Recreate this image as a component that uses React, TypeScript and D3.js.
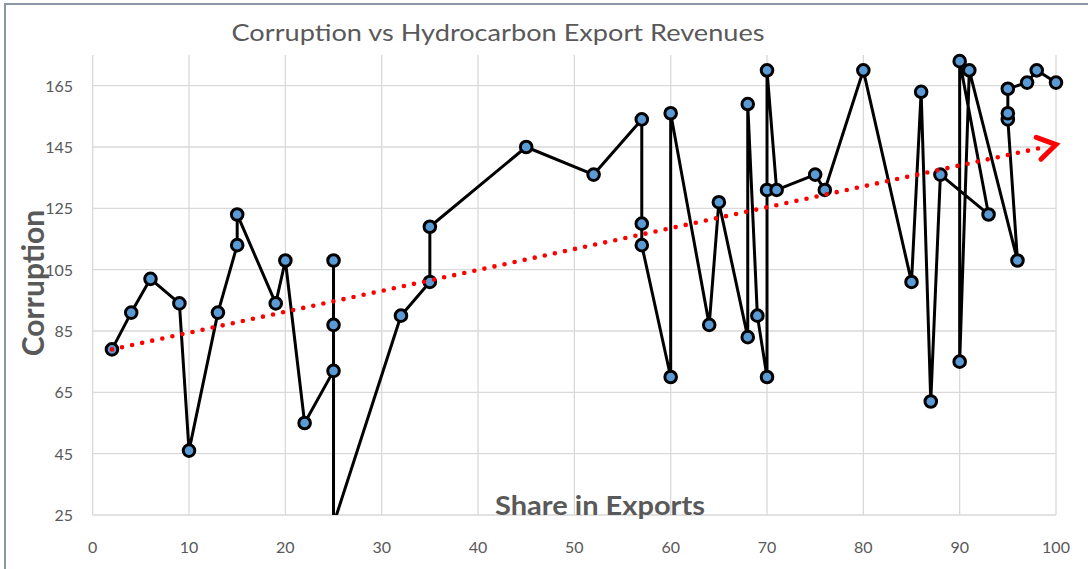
import { useEffect, useRef } from "react";
import * as d3 from "d3";

// share in exports (x) and corruption score (y), in the order the line joins them
const shareInExports = [
  2, 4, 6, 9, 10, 13, 15, 15, 19, 20, 22, 25, 25, 25, 25, 32, 35, 35, 45, 52,
  57, 57, 57, 60, 60, 64, 65, 68, 68, 69, 70, 70, 70, 71, 75, 76, 80, 85, 86,
  87, 88, 93, 90, 90, 91, 96, 95, 95, 95, 97, 98, 100,
];
const corruption = [
  79, 91, 102, 94, 46, 91, 113, 123, 94, 108, 55, 72, 87, 108, 22, 90, 101, 119,
  145, 136, 154, 120, 113, 70, 156, 87, 127, 83, 159, 90, 70, 131, 170, 131, 136,
  131, 170, 101, 163, 62, 136, 123, 173, 75, 170, 108, 154, 156, 164, 166, 170,
  166,
];
const trendX = [2, 100];
const trendY = [79, 145.8];
const yTicks = [25, 45, 65, 85, 105, 125, 145, 165];
const xTicks = [0, 10, 20, 30, 40, 50, 60, 70, 80, 90, 100];

const App = () => {
  const chartContainer = useRef(null);

  useEffect(() => {
    document.body.style.margin = "0";
    const width = 1088;
    const height = 569;
    const font = "Lato, 'Open Sans', sans-serif";
    const textColor = "#595959";

    const x = d3.scaleLinear().domain([0, 100]).range([92.7, 1056]);
    const y = d3.scaleLinear().domain([25, 175]).range([515, 55]);

    d3.select(chartContainer.current).selectAll("*").remove();
    const svg = d3
      .select(chartContainer.current)
      .append("svg")
      .attr("width", width)
      .attr("height", height)
      .style("display", "block")
      .style("background", "#fff");

    // chart frame
    svg
      .append("path")
      .attr("d", `M5,${height + 5} V4 H${width + 5}`)
      .attr("fill", "none")
      .attr("stroke", "#8d96a5")
      .attr("stroke-width", 2);

    // gridlines
    svg
      .append("g")
      .selectAll("line")
      .data(yTicks)
      .enter()
      .append("line")
      .attr("x1", x(0))
      .attr("x2", x(100))
      .attr("y1", (d) => y(d))
      .attr("y2", (d) => y(d))
      .attr("stroke", "#d9d9d9")
      .attr("stroke-width", 1.3);

    svg
      .append("g")
      .selectAll("line")
      .data(xTicks)
      .enter()
      .append("line")
      .attr("x1", (d) => x(d))
      .attr("x2", (d) => x(d))
      .attr("y1", y(175))
      .attr("y2", y(25))
      .attr("stroke", "#d9d9d9")
      .attr("stroke-width", 1.3);

    // tick labels
    svg
      .append("g")
      .selectAll("text")
      .data(yTicks)
      .enter()
      .append("text")
      .attr("x", 73)
      .attr("y", (d) => y(d) + 6)
      .attr("text-anchor", "end")
      .attr("font-family", font)
      .attr("font-size", 16)
      .attr("fill", textColor)
      .text((d) => d);

    svg
      .append("g")
      .selectAll("text")
      .data(xTicks)
      .enter()
      .append("text")
      .attr("x", (d) => x(d))
      .attr("y", 553)
      .attr("text-anchor", "middle")
      .attr("font-family", font)
      .attr("font-size", 16)
      .attr("fill", textColor)
      .text((d) => d);

    // titles
    svg
      .append("text")
      .attr("x", 498)
      .attr("y", 41)
      .attr("text-anchor", "middle")
      .attr("font-family", font)
      .attr("font-size", 24)
      .attr("fill", textColor)
      .attr("textLength", 533)
      .attr("lengthAdjust", "spacingAndGlyphs")
      .text("Corruption vs Hydrocarbon Export Revenues");

    svg
      .append("text")
      .attr("transform", "translate(44,283) rotate(-90)")
      .attr("text-anchor", "middle")
      .attr("font-family", font)
      .attr("font-size", 30)
      .attr("font-weight", "bold")
      .attr("fill", textColor)
      .text("Corruption");

    svg
      .append("text")
      .attr("x", 600)
      .attr("y", 515)
      .attr("text-anchor", "middle")
      .attr("font-family", font)
      .attr("font-size", 26)
      .attr("font-weight", "bold")
      .attr("fill", textColor)
      .attr("textLength", 210)
      .attr("lengthAdjust", "spacingAndGlyphs")
      .text("Share in Exports");

    // clip to plot area
    svg
      .append("clipPath")
      .attr("id", "plot-clip")
      .append("rect")
      .attr("x", x(0) - 10)
      .attr("y", y(175) - 10)
      .attr("width", x(100) - x(0) + 20)
      .attr("height", y(25) - y(175) + 10);

    const points = shareInExports.map((d, i) => [d, corruption[i]]);
    const plot = svg.append("g").attr("clip-path", "url(#plot-clip)");

    const line = d3
      .line()
      .x((d) => x(d[0]))
      .y((d) => y(d[1]));

    plot
      .append("path")
      .datum(points)
      .attr("d", line)
      .attr("fill", "none")
      .attr("stroke", "#000")
      .attr("stroke-width", 3)
      .attr("stroke-linejoin", "round");

    plot
      .selectAll(".pt")
      .data(points)
      .enter()
      .append("circle")
      .attr("class", "pt")
      .attr("cx", (d) => x(d[0]))
      .attr("cy", (d) => y(d[1]))
      .attr("r", 5.8)
      .attr("fill", "#5b9bd5")
      .attr("stroke", "#000")
      .attr("stroke-width", 3);

    // trend line with arrow
    const tx0 = x(trendX[0]);
    const ty0 = y(trendY[0]);
    const tx1 = x(trendX[1]);
    const ty1 = y(trendY[1]);
    svg
      .append("line")
      .attr("x1", tx0)
      .attr("y1", ty0)
      .attr("x2", tx1 - 14)
      .attr("y2", ty1 + ((ty0 - ty1) * 14) / (tx1 - tx0))
      .attr("stroke", "#ff0000")
      .attr("stroke-width", 4.6)
      .attr("stroke-linecap", "round")
      .attr("stroke-dasharray", "0 10.3");

    const ang = Math.atan2(ty1 - ty0, tx1 - tx0);
    const head = 21;
    const spread = 0.56;
    svg
      .append("path")
      .attr(
        "d",
        `M${tx1 - head * Math.cos(ang - spread)},${ty1 - head * Math.sin(ang - spread)} L${tx1},${ty1} L${tx1 - head * Math.cos(ang + spread)},${ty1 - head * Math.sin(ang + spread)}`
      )
      .attr("fill", "none")
      .attr("stroke", "#ff0000")
      .attr("stroke-width", 5)
      .attr("stroke-linecap", "round")
      .attr("stroke-linejoin", "miter");
  }, []);

  return <div ref={chartContainer}></div>;
};

export default App;
